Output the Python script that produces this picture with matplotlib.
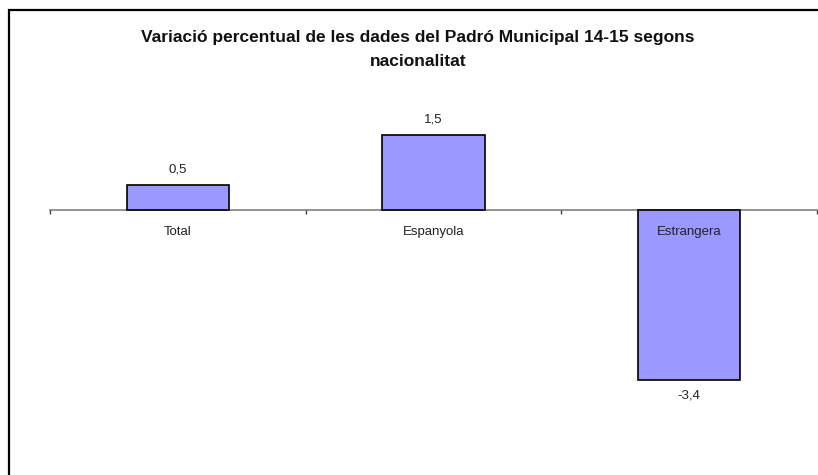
import matplotlib
matplotlib.use("Agg")
import matplotlib.pyplot as plt
from matplotlib.patches import Rectangle

categories = ["Total", "Espanyola", "Estrangera"]
values = [0.5, 1.5, -3.4]
title = "Variació percentual de les dades del Padró Municipal 14-15 segons\nnacionalitat"

W, H = 818, 475
fig = plt.figure(figsize=(W / 100, H / 100), dpi=100)
plt.rcParams['font.family'] = ['Liberation Sans', 'DejaVu Sans']

# frame (only top and left visible in reference)
fig.patches.append(Rectangle((8.5 / W, -0.2), 2.0, 1.2 - 9.5 / H + 0.0,
                             transform=fig.transFigure, fill=False,
                             edgecolor='black', linewidth=1.6, zorder=0))

ax = fig.add_axes([50 / W, 1 - 460 / H, 767 / W, 360 / H])
ax.set_xlim(-0.5, len(categories) - 0.5)
ax.set_ylim(-5.0, 2.2)
ax.patch.set_visible(False)

x = list(range(len(categories)))
bars = ax.bar(x, values, width=0.4, color='#9999FF', edgecolor='black',
              linewidth=1.2, zorder=3)
ax.bar_label(bars, labels=[f"{v:.1f}".replace('.', ',') for v in values],
             padding=7, fontsize=9.5, color='#222222')

for s in ['top', 'right', 'left']:
    ax.spines[s].set_visible(False)
ax.spines['bottom'].set_position(('data', 0))
ax.spines['bottom'].set_color('#808080')
ax.spines['bottom'].set_linewidth(1.2)
ax.spines['bottom'].set_zorder(2)

ax.set_yticks([])
ax.set_xticks([i - 0.5 for i in range(len(categories) + 1)])
ax.set_xticklabels([])
ax.tick_params(axis='x', which='major', direction='out', length=3,
               color='#404040', width=1)
ax.set_xticks(x, minor=True)
ax.set_xticklabels(categories, minor=True, fontsize=9.5, color='#222222')
ax.tick_params(axis='x', which='minor', length=0, pad=11.5)
ax.xaxis.set_zorder(4)

fig.text(418 / W, 1 - 49.5 / H, title, ha='center', va='center',
         fontsize=12.5, fontweight='bold', linespacing=1.82, color='#111111')

fig.savefig("out.png", dpi=100)
